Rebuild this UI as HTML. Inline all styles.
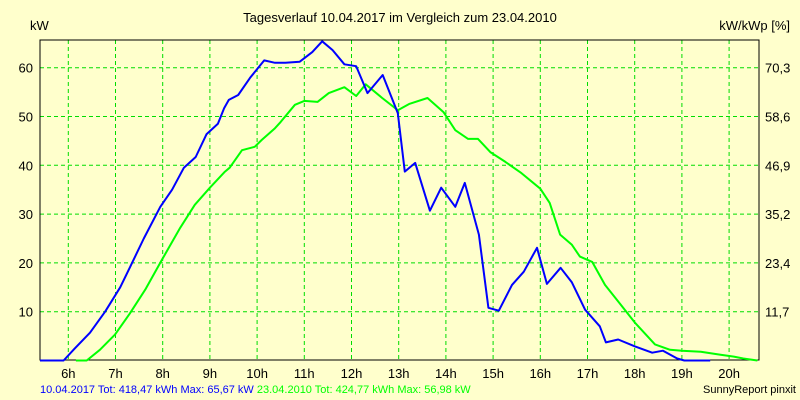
<!DOCTYPE html>
<html><head><meta charset="utf-8"><style>
body{margin:0;background:#ffffcc;}
svg{display:block;font-family:"Liberation Sans",sans-serif;}
</style></head><body>
<svg width="800" height="400" viewBox="0 0 800 400">
<rect x="0" y="0" width="800" height="400" fill="#ffffcc"/>
<text x="400" y="22" font-size="13" text-anchor="middle">Tagesverlauf 10.04.2017 im Vergleich zum 23.04.2010</text>
<text x="30" y="30" font-size="13">kW</text>
<text x="790" y="30" font-size="13" text-anchor="end">kW/kWp [%]</text>
<g id="grid"></g>
<g id="axes"></g>
<g id="series"></g>
<text x="40" y="393" font-size="11"><tspan fill="#0000ff">10.04.2017 Tot: 418,47 kWh Max: 65,67 kW </tspan><tspan fill="#00ff00">23.04.2010 Tot: 424,77 kWh Max: 56,98 kW</tspan></text>
<text x="796" y="393" font-size="11" text-anchor="end">SunnyReport pinxit</text>
</svg>
<script>
const hourTicks=[6,7,8,9,10,11,12,13,14,15,16,17,18,19,20];
const yTicks=[10,20,30,40,50,60];
const y2Labels=["11,7","23,4","35,2","46,9","58,6","70,3"];
const blueT=[5.4,5.9,6.14,6.46,6.78,7.1,7.3,7.6,7.95,8.2,8.45,8.7,8.93,9.17,9.3,9.4,9.6,9.85,10.15,10.38,10.6,10.9,11.17,11.38,11.6,11.85,12.1,12.34,12.66,12.98,13.13,13.35,13.66,13.9,14.2,14.4,14.7,14.9,15.12,15.4,15.65,15.93,16.14,16.43,16.67,16.95,17.26,17.39,17.65,18,18.37,18.6,18.9,19.05,19.6];
const blueV=[0,0,2.5,5.7,10,15,19,25,31.5,35,39.5,41.7,46.4,48.5,51.7,53.4,54.4,57.9,61.5,61,61,61.2,63.2,65.4,63.6,60.7,60.3,54.8,58.5,50.7,38.7,40.5,30.7,35.4,31.5,36.4,25.8,10.8,10.2,15.5,18.2,23.1,15.7,19,16,10.4,7,3.7,4.3,2.9,1.6,2,0.4,0,0];
const greenT=[6.16,6.39,6.67,6.99,7.3,7.63,7.98,8.37,8.68,9,9.32,9.42,9.68,9.95,10.1,10.38,10.5,10.8,11,11.28,11.52,11.85,12.1,12.3,12.65,12.98,13.23,13.61,13.95,14.2,14.47,14.68,14.94,15.26,15.6,16,16.2,16.42,16.67,16.84,17.1,17.37,17.7,18,18.43,18.75,19,19.4,19.8,20.1,20.3,20.6];
const greenV=[0,0,2.2,5.3,9.6,14.5,20.6,27.2,31.9,35.4,38.7,39.5,43.1,43.8,45.2,47.6,48.9,52.4,53.2,53,54.8,56,54.2,56.6,53.8,51.3,52.6,53.8,50.9,47.2,45.4,45.4,42.7,40.7,38.4,35.2,32.3,25.8,23.7,21.3,20.2,15.5,11.5,7.8,3.3,2.2,2,1.8,1.2,0.8,0.4,0];
const L=40,R=759,T=40,B=360;
const xs=h=>68.3+(h-6)*47.2;
const ys=v=>360.5-v*4.88;
const NS="http://www.w3.org/2000/svg";
function mk(tag,attrs,parent){const e=document.createElementNS(NS,tag);for(const k in attrs)e.setAttribute(k,attrs[k]);parent.appendChild(e);return e;}
const grid=document.getElementById('grid'),axes=document.getElementById('axes'),ser=document.getElementById('series');
hourTicks.forEach(h=>{
 const x=xs(h);
 const l=mk('line',{x1:x,y1:T,x2:x,y2:B,stroke:'#00dd00','stroke-dasharray':'4,3','stroke-width':1},grid);
 
 
 const t=mk('text',{x:x,y:378,'font-size':13,'text-anchor':'middle'},axes);
 t.textContent=h+'h';
 
 
});
yTicks.forEach((v,i)=>{
 const y=ys(v);
 const l=mk('line',{x1:L,y1:y,x2:R,y2:y,stroke:'#00dd00','stroke-dasharray':'4,3','stroke-width':1},grid);
 
 
 const t=mk('text',{x:33,y:y+5,'font-size':13,'text-anchor':'end'},axes);
 t.textContent=v;
 
 
 const t2=mk('text',{x:765,y:y+5,'font-size':13},axes);
 t2.textContent=y2Labels[i];
 
 
});
const frame=mk('path',{d:`M${L},${T}H${R}V${B}H${L}Z`,fill:'none',stroke:'#000','stroke-width':1},axes);


function line(ts,vs,col,name){
 const p=mk('polyline',{points:ts.map((t,i)=>xs(t).toFixed(1)+','+ys(vs[i]).toFixed(1)).join(' '),fill:'none',stroke:col,'stroke-width':2,'stroke-linejoin':'round'},ser);
 
 
}
line(greenT,greenV,'#00ff00','series-2010');
line(blueT,blueV,'#0000ff','series-2017');
</script>
</body></html>
